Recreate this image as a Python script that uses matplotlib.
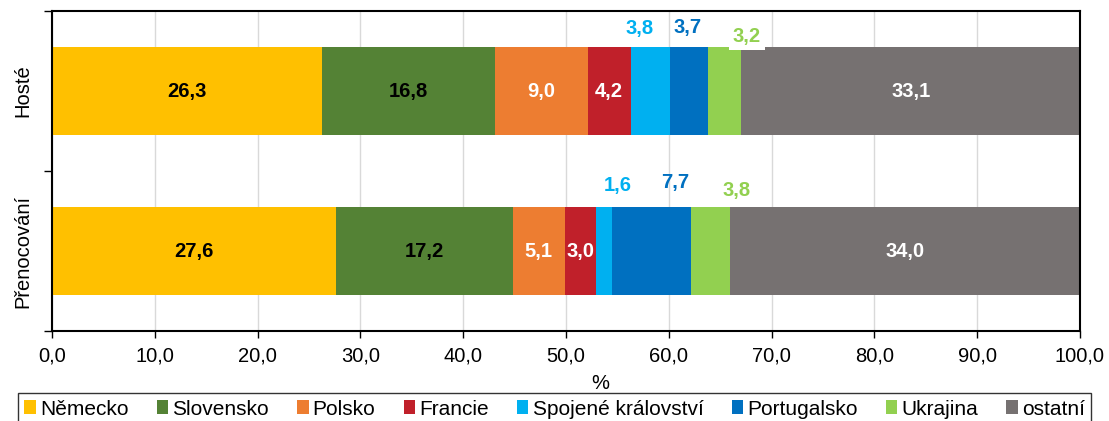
import matplotlib
matplotlib.use("Agg")
import matplotlib.pyplot as plt
import numpy as np

plt.rcParams['font.family'] = ['Liberation Sans', 'DejaVu Sans']

categories = ["Hosté", "Přenocování"]
countries = ["Německo", "Slovensko", "Polsko", "Francie", "Spojené království",
             "Portugalsko", "Ukrajina", "ostatní"]
hoste = [26.3, 16.8, 9.0, 4.2, 3.8, 3.7, 3.2, 33.1]
prenocovani = [27.6, 17.2, 5.1, 3.0, 1.6, 7.7, 3.8, 34.0]
xticks = [0, 10, 20, 30, 40, 50, 60, 70, 80, 90, 100]

colors = ["#FFC000", "#548235", "#ED7D31", "#C0202A", "#00B0F0",
          "#0070C0", "#92D050", "#767171"]
text_colors = ["black", "black", "white", "white", None, None, None, "white"]
# small segments: label placed above bar (dx in data units, dy in bar units)
outside = {
    (0, 4): (-1.0, -0.39), (0, 5): (-0.1, -0.40), (0, 6): (2.2, -0.34),
    (1, 4): (1.3, -0.41), (1, 5): (2.3, -0.43), (1, 6): (2.5, -0.38),
}
FS = 14.5

fig = plt.figure(figsize=(11.09, 4.21), dpi=100)
ax = fig.add_axes([52/1109, 1-331/421, (1080-52)/1109, 320/421])

data = [hoste, prenocovani]
for i, vals in enumerate(data):
    left = 0.0
    for j, v in enumerate(vals):
        ax.barh(i, v, left=left, height=0.55, color=colors[j], zorder=2,
                label=countries[j] if i == 0 else None)
        cx = left + v / 2
        lab = f"{v:.1f}".replace(".", ",")
        if (i, j) in outside:
            dx, dy = outside[(i, j)]
            bbox = dict(facecolor="white", edgecolor="none", pad=3) if (i, j) == (0, 6) else None
            ax.text(cx + dx, i + dy, lab, ha="center", va="center",
                    color=colors[j], fontsize=FS, fontweight="bold", zorder=4, bbox=bbox)
        else:
            ax.text(cx, i, lab, ha="center", va="center",
                    color=text_colors[j], fontsize=FS, fontweight="bold", zorder=4)
        left += v

ax.set_xlim(0, 100)
ax.set_ylim(1.5, -0.5)
ax.set_xticks(xticks)
ax.set_xticklabels([f"{t:.1f}".replace(".", ",") for t in xticks], fontsize=FS)
ax.set_yticks([0, 1])
ax.set_yticklabels(categories, rotation=90, va="center", fontsize=FS)
ax.tick_params(axis="y", length=0, pad=14)
ax.set_yticks([-0.5, 0.5, 1.5], minor=True)
ax.tick_params(axis="y", which="minor", length=6, width=1)
ax.tick_params(axis="x", length=5, width=1, pad=6)
ax.grid(axis="x", color="#D9D9D9", linewidth=1, zorder=0)
ax.set_axisbelow(True)
for s in ax.spines.values():
    s.set_color("black")
    s.set_linewidth(1.5)
ax.set_xlabel("%", fontsize=FS, labelpad=0)
ax.xaxis.set_label_coords(0.533, -0.135)

leg = ax.legend(loc="upper center", bbox_to_anchor=(0.489, -0.195), ncol=8,
                frameon=True, fancybox=False, edgecolor="black", fontsize=15,
                handlelength=0.55, handleheight=0.65, handletextpad=0.2,
                columnspacing=1.35, borderpad=0.3, borderaxespad=0)
leg.get_frame().set_linewidth(1)

fig.savefig("out.png", dpi=100)
